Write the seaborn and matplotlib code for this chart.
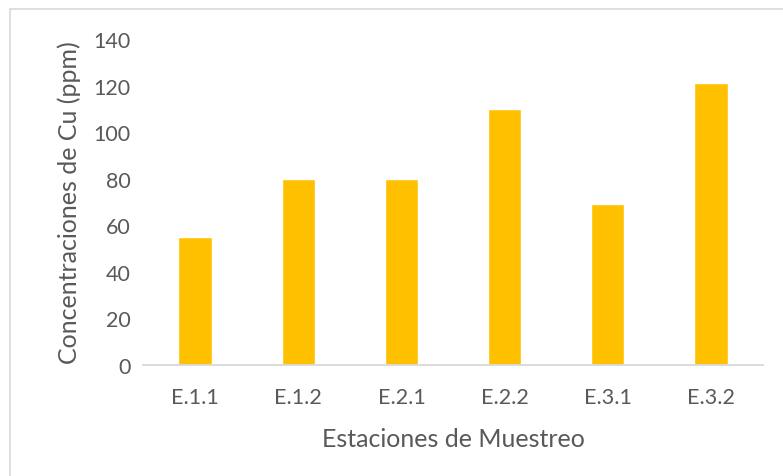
import matplotlib
matplotlib.use("Agg")
import matplotlib.pyplot as plt
from matplotlib.patches import Rectangle
import seaborn as sns
import pandas as pd

estaciones = ["E.1.1", "E.1.2", "E.2.1", "E.2.2", "E.3.1", "E.3.2"]
cobre_ppm = [55, 80, 80, 110, 69, 121]
y_ticks = [0, 20, 40, 60, 80, 100, 120, 140]

df = pd.DataFrame({"Estacion": estaciones, "Cu": cobre_ppm})

sns.set_theme(style="white")
plt.rcParams["font.family"] = ["Lato", "DejaVu Sans"]

W, H = 783, 477
fig = plt.figure(figsize=(W / 100, H / 100), dpi=100)
ax = fig.add_axes([143.4 / W, 1 - 366 / H, (762.6 - 143.4) / W, (366 - 40) / H])

sns.barplot(data=df, x="Estacion", y="Cu", color="#FFC000", width=0.32,
            saturation=1, ax=ax)

ax.set_ylim(0, 140)
ax.set_xlim(-0.5, len(estaciones) - 0.5)
ax.set_yticks(y_ticks)
ax.tick_params(axis="both", length=0, labelsize=15.5, labelcolor="#595959")
ax.tick_params(axis="x", pad=16)
ax.tick_params(axis="y", pad=9)

for side in ["top", "right", "left"]:
    ax.spines[side].set_visible(False)
ax.spines["bottom"].set_color("#D9D9D9")
ax.spines["bottom"].set_linewidth(1.3)

ax.set_xlabel("Estaciones de Muestreo", fontsize=18, color="#595959", labelpad=14)
ax.set_ylabel("Concentraciones de Cu (ppm)", fontsize=18, color="#595959", labelpad=9)

# chart area frame
fig.patches.append(Rectangle((10 / W, -0.1), 1.2, 1 - 10 / H + 0.1,
                             transform=fig.transFigure, fill=False,
                             edgecolor="#D9D9D9", linewidth=1.2))

fig.savefig("out.png", dpi=100)
